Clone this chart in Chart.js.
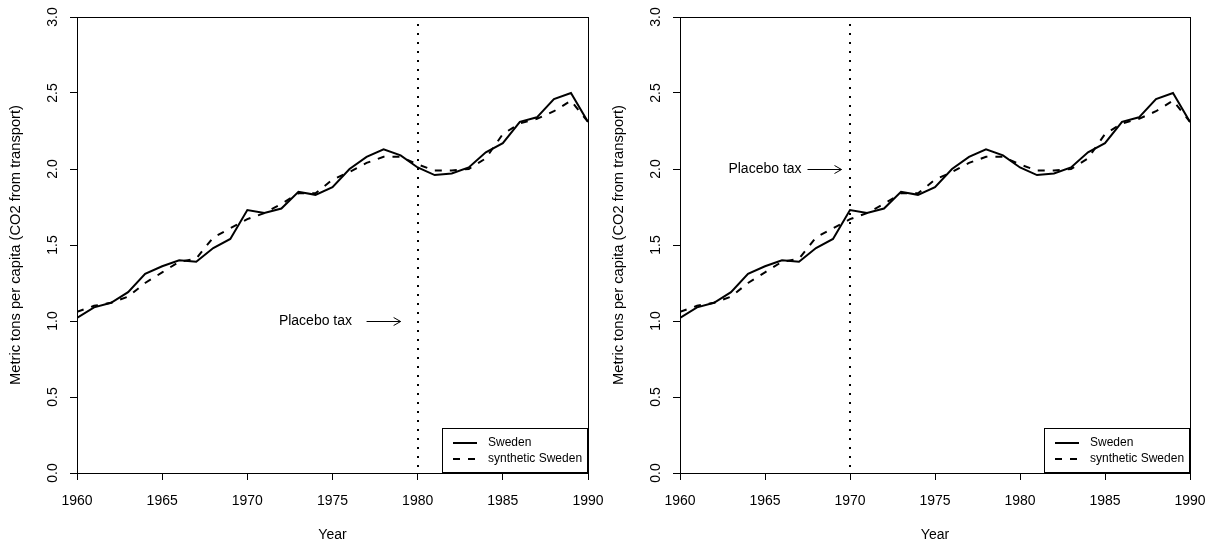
<!DOCTYPE html>
<html>
<head>
<meta charset="utf-8">
<style>
  body { margin: 0; background: #fff; width: 1215px; height: 546px; position: relative; overflow: hidden; }
  .panel { position: absolute; top: 0; height: 546px; }
</style>
</head>
<body>
<div class="panel" style="left: 0;"><canvas id="leftChart" width="608" height="546"></canvas></div>
<div class="panel" style="left: 603px;"><canvas id="rightChart" width="612" height="546"></canvas></div>

<script src="https://cdn.jsdelivr.net/npm/chart.js@4.4.1/dist/chart.umd.js"></script>
<script>
  const years = [1960, 1961, 1962, 1963, 1964, 1965, 1966, 1967, 1968, 1969,
                 1970, 1971, 1972, 1973, 1974, 1975, 1976, 1977, 1978, 1979,
                 1980, 1981, 1982, 1983, 1984, 1985, 1986, 1987, 1988, 1989, 1990];
  const sweden = [1.02, 1.09, 1.12, 1.19, 1.31, 1.36, 1.40, 1.39, 1.48, 1.54,
                  1.73, 1.71, 1.74, 1.85, 1.83, 1.88, 2.00, 2.08, 2.13, 2.09,
                  2.01, 1.96, 1.97, 2.01, 2.11, 2.17, 2.31, 2.34, 2.46, 2.50, 2.31];
  const synthSweden = [1.06, 1.10, 1.12, 1.16, 1.25, 1.32, 1.39, 1.41, 1.55, 1.61,
                       1.67, 1.71, 1.77, 1.84, 1.84, 1.93, 1.98, 2.04, 2.08, 2.08,
                       2.03, 1.99, 1.99, 2.00, 2.07, 2.23, 2.30, 2.33, 2.38, 2.45, 2.31];
  const xTicks = [1960, 1965, 1970, 1975, 1980, 1985, 1990];
  const yTicks = [0, 0.5, 1.0, 1.5, 2.0, 2.5, 3.0];
  const seriesNames = ['Sweden', 'synthetic Sweden'];

  const FONT = '"Liberation Sans", Arial, Helvetica, sans-serif';
  Chart.defaults.font.family = FONT;
  Chart.defaults.color = '#000';

  function px(v) { return Math.round(v) + 0.5; }

  // box round the plot, the placebo line, its note and the legend
  const extras = {
    id: 'extras',
    afterDatasetsDraw(chart, args, opts) {
      const { ctx, chartArea: a, scales: { x, y } } = chart;
      ctx.save();
      ctx.strokeStyle = '#000';
      ctx.lineWidth = 1;
      ctx.strokeRect(px(a.left), px(a.top), Math.round(a.right) - Math.round(a.left), Math.round(a.bottom) - Math.round(a.top));

      // dotted vertical line
      const vx = Math.round(x.getPixelForValue(opts.taxYear));
      ctx.beginPath();
      ctx.lineWidth = 2;
      ctx.setLineDash([2, 7]);
      ctx.moveTo(vx, a.top + 7);
      ctx.lineTo(vx, a.bottom);
      ctx.stroke();
      ctx.setLineDash([]);

      // note with arrow
      const ny = y.getPixelForValue(opts.noteValue);
      ctx.font = '14px ' + FONT;
      ctx.fillStyle = '#000';
      ctx.textAlign = 'center';
      ctx.textBaseline = 'middle';
      ctx.fillText('Placebo tax', x.getPixelForValue(opts.textYear), ny);
      const ax0 = x.getPixelForValue(opts.arrowFrom);
      const ax1 = x.getPixelForValue(opts.arrowTo);
      ctx.lineWidth = 1;
      ctx.beginPath();
      ctx.moveTo(ax0, px(ny));
      ctx.lineTo(ax1, px(ny));
      ctx.moveTo(ax1 - 7, px(ny) - 4);
      ctx.lineTo(ax1, px(ny));
      ctx.lineTo(ax1 - 7, px(ny) + 4);
      ctx.stroke();

      // legend in the bottom right corner
      const r = Math.round(a.right), b = Math.round(a.bottom);
      ctx.strokeRect(r - 145.5, b - 44.5, 145, 44);
      ctx.font = '12px ' + FONT;
      ctx.textAlign = 'left';
      const rows = [b - 30, b - 14];
      rows.forEach((ry, i) => {
        ctx.beginPath();
        ctx.lineWidth = 2;
        ctx.setLineDash(i === 0 ? [] : [7, 8]);
        ctx.moveTo(r - 135, ry);
        ctx.lineTo(r - 111, ry);
        ctx.stroke();
        ctx.setLineDash([]);
        ctx.fillText(seriesNames[i], r - 100, ry);
      });
      ctx.restore();
    }
  };

  function makeChart(id, note, padRight) {
    new Chart(document.getElementById(id), {
      type: 'line',
      data: {
        datasets: [
          {
            label: seriesNames[0],
            data: years.map((yr, i) => ({ x: yr, y: sweden[i] })),
            borderColor: '#000', borderWidth: 2, pointRadius: 0, tension: 0
          },
          {
            label: seriesNames[1],
            data: years.map((yr, i) => ({ x: yr, y: synthSweden[i] })),
            borderColor: '#000', borderWidth: 2, borderDash: [7, 8], pointRadius: 0, tension: 0
          }
        ]
      },
      options: {
        responsive: false,
        animation: false,
        devicePixelRatio: 1,
        layout: { padding: { top: 17, right: padRight, left: 0, bottom: 0 } },
        scales: {
          x: {
            type: 'linear',
            min: 1960, max: 1990,
            afterBuildTicks: s => { s.ticks = xTicks.map(v => ({ value: v })); },
            afterFit: s => { s.height = 73; s.paddingLeft = 0; s.paddingRight = 0; },
            grid: { drawOnChartArea: false, tickLength: 7, tickColor: '#000', tickWidth: 1 },
            border: { display: true, color: '#000', width: 1 },
            ticks: {
              font: { size: 14 }, padding: 13, maxRotation: 0, minRotation: 0, autoSkip: false,
              callback: v => String(v)
            },
            title: { display: true, text: 'Year', font: { size: 14 }, padding: { top: 0, bottom: 2 } }
          },
          y: {
            min: 0, max: 3,
            afterBuildTicks: s => { s.ticks = yTicks.map(v => ({ value: v })); },
            afterFit: s => { s.width = 77; s.paddingTop = 0; s.paddingBottom = 0; },
            grid: { drawOnChartArea: false, tickLength: 7, tickColor: '#000', tickWidth: 1 },
            border: { display: true, color: '#000', width: 1 },
            ticks: {
              font: { size: 14 }, padding: 7, minRotation: 90, maxRotation: 90,
              crossAlign: 'center', autoSkip: false,
              callback: v => v.toFixed(1)
            },
            title: {
              display: true, text: 'Metric tons per capita (CO2 from transport)',
              font: { size: 14.7 }, padding: { top: 7, bottom: 0 }
            }
          }
        },
        plugins: {
          legend: { display: false },
          tooltip: { enabled: false },
          extras: note
        }
      },
      plugins: [extras]
    });
  }

  makeChart('leftChart', { taxYear: 1980, textYear: 1974, arrowFrom: 1977, arrowTo: 1979, noteValue: 1.0 }, 20);
  makeChart('rightChart', { taxYear: 1970, textYear: 1965, arrowFrom: 1967.5, arrowTo: 1969.5, noteValue: 2.0 }, 25);
</script>
</body>
</html>
